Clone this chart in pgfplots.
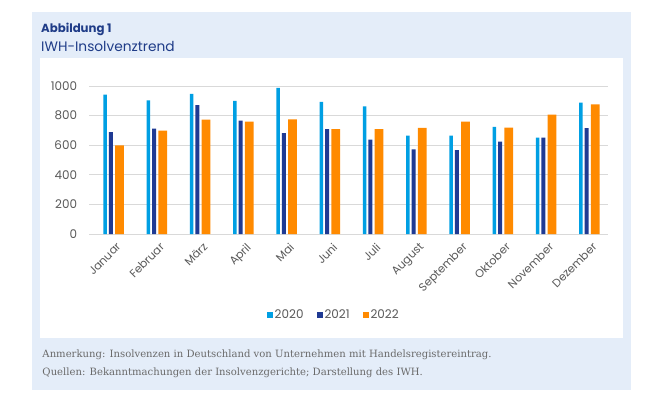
\documentclass[border=0pt]{standalone}
\usepackage{pgfplots}
\pgfplotsset{compat=1.18}
\usepackage{fontspec}
\setmainfont{Poppins}
\newfontfamily\notefont{DejaVu Serif}
\definecolor{c2020}{HTML}{009FE3}
\definecolor{c2021}{HTML}{1F3A93}
\definecolor{c2022}{HTML}{FF8A00}
\definecolor{panel}{HTML}{E4EDF9}
\definecolor{titleblue}{HTML}{1F3C88}
\definecolor{ticktext}{HTML}{595959}
\definecolor{notegray}{HTML}{6A6A6A}
\definecolor{gridgray}{HTML}{D9D9D9}
\pgfplotstableread{
idx y2020 y2021 y2022
0  941 688 598
1  903 712 699
2  946 870 773
3  899 766 760
4  987 681 775
5  892 708 708
6  863 638 708
7  665 571 717
8  665 566 760
9  724 625 719
10 652 652 807
11 888 715 876
}\datatable
\begin{document}
\begin{tikzpicture}[x=1bp,y=1bp]
\fill[white] (0,0) rectangle (653,405);
\fill[panel] (32,15) rectangle (631,393);
\fill[white] (40,67) rectangle (623,347);
\node[anchor=base west,inner sep=0pt,text=titleblue,font=\fontsize{11.8}{13}\selectfont\bfseries] at (41,373) {Abbildung 1};
\node[anchor=base west,inner sep=0pt,text=titleblue,font=\fontsize{13.8}{16}\selectfont] at (41,354) {IWH-Insolvenztrend};
\node[anchor=base west,inner sep=0pt,text=notegray,font=\notefont\fontsize{10.1}{12}\selectfont] at (42.3,47.7) {Anmerkung: Insolvenzen in Deutschland von Unternehmen mit Handelsregistereintrag.};
\node[anchor=base west,inner sep=0pt,text=notegray,font=\notefont\fontsize{10.1}{12}\selectfont] at (42.3,30) {Quellen: Bekanntmachungen der Insolvenzgerichte; Darstellung des IWH.};
\begin{axis}[
  at={(89.3bp,171bp)}, anchor=south west,
  scale only axis, width=519bp, height=148bp,
  xmin=-0.5, xmax=11.5, ymin=0, ymax=1000,
  ybar,
  axis line style={draw=none},
  major tick length=0pt,
  ytick={0,200,400,600,800,1000},
  ymajorgrids, grid style={gridgray, line width=0.8pt},
  xtick={0,...,11},
  xticklabels={Januar,Februar,März,April,Mai,Juni,Juli,August,September,Oktober,November,Dezember},
  xticklabel style={rotate=45, anchor=north east, inner sep=1pt, yshift=-8bp, xshift=-1bp, font=\fontsize{11.3}{12}\selectfont, text=ticktext},
  yticklabel style={inner sep=0pt, xshift=-12bp, font=\fontsize{12}{14}\selectfont, text=ticktext},
  /pgf/number format/assume math mode=true,
  /pgf/number format/1000 sep={},
  legend columns=3,
  legend style={at={(axis description cs:0.47,-0.547)}, anchor=center, draw=none, fill=none,
    font=\fontsize{12}{14}\selectfont, text=ticktext,
    nodes={inner sep=1bp},
    /tikz/every odd column/.append style={column sep=1bp},
    /tikz/every even column/.append style={column sep=12bp}},
  legend image code/.code={\fill[#1] (0bp,-3bp) rectangle (6bp,3bp);},
]
\addplot[fill=c2020, draw=none, bar width=3.3bp, bar shift=-5.8bp] table[x=idx,y=y2020] {\datatable};
\addplot[fill=c2021, draw=none, bar width=4bp, bar shift=0bp] table[x=idx,y=y2021] {\datatable};
\addplot[fill=c2022, draw=none, bar width=8.7bp, bar shift=8.5bp] table[x=idx,y=y2022] {\datatable};
\legend{2020,2021,2022}
\end{axis}
\end{tikzpicture}
\end{document}
